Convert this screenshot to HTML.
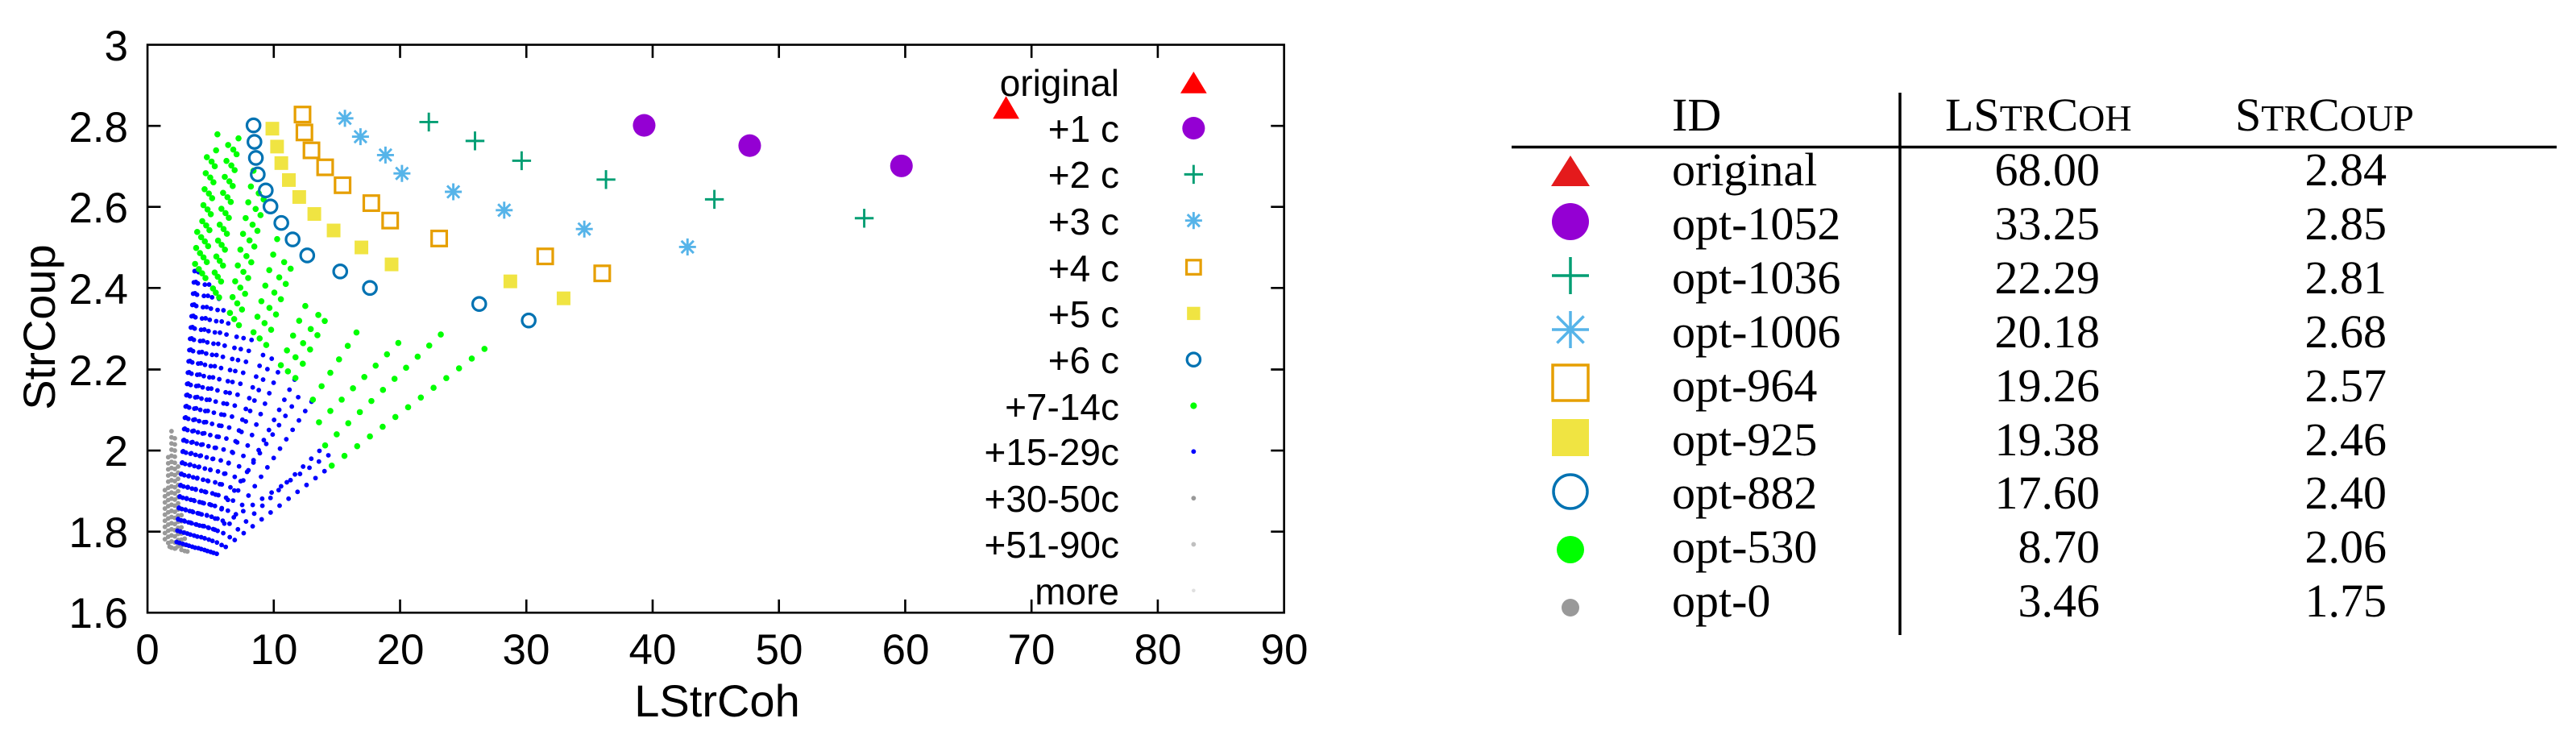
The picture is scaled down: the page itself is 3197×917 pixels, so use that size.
<!DOCTYPE html>
<html><head><meta charset="utf-8"><style>
html,body{margin:0;padding:0;background:#fff;}
svg{display:block;}
</style></head><body>
<svg width="3197" height="917" viewBox="0 0 3197 917" xmlns="http://www.w3.org/2000/svg" xmlns:xlink="http://www.w3.org/1999/xlink">
<defs>
<path id="pl" d="M-20 0H20M0-20V20" stroke="#009e73" stroke-width="5" fill="none"/>
<path id="as" d="M-18 0H18M0-18V18M-13-13L13 13M-13 13L13-13" stroke="#56b4e9" stroke-width="5" fill="none"/>
<rect id="os" x="-16" y="-16" width="32" height="32" fill="none" stroke="#e69f00" stroke-width="5.5"/>
<rect id="fs" x="-14.5" y="-14.5" width="29" height="29" fill="#f0e442"/>
<circle id="oc" r="14" fill="none" stroke="#0072b2" stroke-width="5.5"/>
<circle id="pc" r="24" fill="#9400d3"/>
</defs>
<rect width="3197" height="917" fill="#fff"/>
<g transform="scale(0.58482)">
<g stroke="#999" stroke-width="10" stroke-linecap="round" stroke-dasharray="0 13" fill="none">
<path d="M350 1040V1150M357 970V1160M364 915V1165M371 930V1165M378 990V1165M385 1080V1168M392 1130V1170"/>
<path d="M360 1160L405 1172"/>
</g>
<g stroke="#0000ff" stroke-width="10" stroke-linecap="round" stroke-dasharray="0 24" fill="none">
<path d="M375 1150L414 560M381 1152L422 571M388 1154L436 590M395 1156L452 612M401 1158L465 631M408 1160L488 664M414 1162L507 690M421 1163L538 705M427 1165L565 732M434 1167L596 775M440 1169L627 802M447 1171L664 848M453 1173L690 945M460 1175L704 988"/>
<path d="M378 1101L418 566M391 1105L444 601M404 1109L476 647M417 1113L522 697M430 1116L580 753M443 1120L645 825M456 1124L697 966"/>
</g>
<g stroke="#00ff00" stroke-width="13" stroke-linecap="round" stroke-dasharray="0 34" fill="none">
<path d="M414 560L420 470M422 571L440 320M436 590L462 278M452 612L485 300M465 631L510 262M488 664L540 350M507 690L560 420M538 705L590 500M565 732L620 560M596 775L660 620M627 802L700 660M664 848L760 700M690 945L956 690M704 988L1052 722"/>
<path d="M429 580L451 319M458 621L497 301M497 677L550 405M551 718L605 550M611 788L680 660M677 896L858 715"/>
</g>
<g>
<use href="#os" x="642" y="243"/><use href="#os" x="646" y="281"/><use href="#os" x="661" y="319"/><use href="#os" x="690" y="355"/><use href="#os" x="727" y="393"/><use href="#os" x="788" y="431"/><use href="#os" x="828" y="468"/><use href="#os" x="932" y="506"/><use href="#os" x="1157" y="544"/><use href="#os" x="1278" y="580"/>
<use href="#fs" x="578" y="273"/><use href="#fs" x="588" y="311"/><use href="#fs" x="597" y="346"/><use href="#fs" x="613" y="382"/><use href="#fs" x="635" y="418"/><use href="#fs" x="667" y="454"/><use href="#fs" x="708" y="489"/><use href="#fs" x="767" y="525"/><use href="#fs" x="831" y="561"/><use href="#fs" x="1083" y="597"/><use href="#fs" x="1196" y="633"/>
<use href="#oc" x="538" y="266"/><use href="#oc" x="540" y="301"/><use href="#oc" x="543" y="335"/><use href="#oc" x="547" y="370"/><use href="#oc" x="564" y="404"/><use href="#oc" x="574" y="438"/><use href="#oc" x="597" y="473"/><use href="#oc" x="621" y="508"/><use href="#oc" x="652" y="542"/><use href="#oc" x="722" y="576"/><use href="#oc" x="785" y="611"/><use href="#oc" x="1017" y="645"/><use href="#oc" x="1122" y="680"/>
<use href="#as" x="732" y="251"/><use href="#as" x="765" y="290"/><use href="#as" x="818" y="329"/><use href="#as" x="853" y="368"/><use href="#as" x="962" y="407"/><use href="#as" x="1070" y="446"/><use href="#as" x="1240" y="486"/><use href="#as" x="1459" y="524"/>
<use href="#pl" x="910" y="259"/><use href="#pl" x="1008" y="299"/><use href="#pl" x="1107" y="341"/><use href="#pl" x="1286" y="381"/><use href="#pl" x="1516" y="423"/><use href="#pl" x="1834" y="463"/>
<use href="#pc" x="1367" y="266"/><use href="#pc" x="1591" y="309"/><use href="#pc" x="1913" y="352"/>
<polygon points="2107,252 2163,252 2135,204" fill="#ff0000"/>
</g>
<polygon points="2505,198 2561,198 2533,152" fill="#ff0000"/>
<use href="#pc" x="2533" y="272"/>
<use href="#pl" x="2533" y="370"/>
<use href="#as" x="2533" y="468"/>
<rect x="2518" y="552" width="30" height="30" fill="none" stroke="#e69f00" stroke-width="5.5"/>
<rect x="2519" y="651" width="28" height="28" fill="#f0e442"/>
<use href="#oc" x="2533" y="763"/>
<circle cx="2533" cy="861" r="7" fill="#00ff00"/>
<circle cx="2533" cy="958" r="5" fill="#0000ff"/>
<circle cx="2533" cy="1057" r="5" fill="#999"/>
<circle cx="2533" cy="1155" r="5" fill="#c0c0c0"/>
<circle cx="2533" cy="1253" r="4" fill="#e0e0e0"/>
<path d="M581 1300v-28M581 95v28M849 1300v-28M849 95v28M1117 1300v-28M1117 95v28M1385 1300v-28M1385 95v28M1653 1300v-28M1653 95v28M1921 1300v-28M1921 95v28M2189 1300v-28M2189 95v28M2457 1300v-28M2457 95v28M313 1128h28M2725 1128h-28M313 956h28M2725 956h-28M313 784h28M2725 784h-28M313 611h28M2725 611h-28M313 439h28M2725 439h-28M313 267h28M2725 267h-28" stroke="#000" stroke-width="4.5" fill="none"/>
<rect x="313" y="95" width="2412" height="1205" fill="none" stroke="#000" stroke-width="4.5"/>
</g>
<g font-family="Liberation Sans, sans-serif" font-size="53" fill="#000">
<text x="159" y="75" text-anchor="end">3</text>
<text x="159" y="176" text-anchor="end">2.8</text>
<text x="159" y="276" text-anchor="end">2.6</text>
<text x="159" y="377" text-anchor="end">2.4</text>
<text x="159" y="478" text-anchor="end">2.2</text>
<text x="159" y="578" text-anchor="end">2</text>
<text x="159" y="679" text-anchor="end">1.8</text>
<text x="159" y="779" text-anchor="end">1.6</text>
<text x="183" y="824" text-anchor="middle">0</text>
<text x="340" y="824" text-anchor="middle">10</text>
<text x="497" y="824" text-anchor="middle">20</text>
<text x="653" y="824" text-anchor="middle">30</text>
<text x="810" y="824" text-anchor="middle">40</text>
<text x="967" y="824" text-anchor="middle">50</text>
<text x="1124" y="824" text-anchor="middle">60</text>
<text x="1280" y="824" text-anchor="middle">70</text>
<text x="1437" y="824" text-anchor="middle">80</text>
<text x="1594" y="824" text-anchor="middle">90</text>
<text x="890" y="889" text-anchor="middle" font-size="56">LStrCoh</text>
<text transform="translate(68,406) rotate(-90)" text-anchor="middle" font-size="56">StrCoup</text>
</g>
<g font-family="Liberation Sans, sans-serif" font-size="46" fill="#000" text-anchor="end">
<text x="1389" y="119">original</text>
<text x="1389" y="176">+1 c</text>
<text x="1389" y="233">+2 c</text>
<text x="1389" y="291">+3 c</text>
<text x="1389" y="349">+4 c</text>
<text x="1389" y="406">+5 c</text>
<text x="1389" y="463">+6 c</text>
<text x="1389" y="521">+7-14c</text>
<text x="1389" y="577">+15-29c</text>
<text x="1389" y="635">+30-50c</text>
<text x="1389" y="692">+51-90c</text>
<text x="1389" y="750">more</text>
</g>
<g stroke="#000" stroke-width="3.5">
<line x1="2358" y1="115" x2="2358" y2="788"/>
<line x1="1876" y1="182.5" x2="3173" y2="182.5"/>
</g>
<g font-family="Liberation Serif, serif" font-size="58" fill="#000">
<text x="2075" y="162">ID</text>
<text x="2414" y="162">LS<tspan font-size="46">TR</tspan>C<tspan font-size="46">OH</tspan></text>
<text x="2774" y="162">S<tspan font-size="46">TR</tspan>C<tspan font-size="46">OUP</tspan></text>
</g>
<g font-family="Liberation Serif, serif" font-size="58" fill="#000">
<text x="2075" y="230">original</text><text x="2606" y="230" text-anchor="end">68.00</text><text x="2962" y="230" text-anchor="end">2.84</text>
<text x="2075" y="297">opt-1052</text><text x="2606" y="297" text-anchor="end">33.25</text><text x="2962" y="297" text-anchor="end">2.85</text>
<text x="2075" y="364">opt-1036</text><text x="2606" y="364" text-anchor="end">22.29</text><text x="2962" y="364" text-anchor="end">2.81</text>
<text x="2075" y="431">opt-1006</text><text x="2606" y="431" text-anchor="end">20.18</text><text x="2962" y="431" text-anchor="end">2.68</text>
<text x="2075" y="498">opt-964</text><text x="2606" y="498" text-anchor="end">19.26</text><text x="2962" y="498" text-anchor="end">2.57</text>
<text x="2075" y="565">opt-925</text><text x="2606" y="565" text-anchor="end">19.38</text><text x="2962" y="565" text-anchor="end">2.46</text>
<text x="2075" y="631">opt-882</text><text x="2606" y="631" text-anchor="end">17.60</text><text x="2962" y="631" text-anchor="end">2.40</text>
<text x="2075" y="698">opt-530</text><text x="2606" y="698" text-anchor="end">8.70</text><text x="2962" y="698" text-anchor="end">2.06</text>
<text x="2075" y="765">opt-0</text><text x="2606" y="765" text-anchor="end">3.46</text><text x="2962" y="765" text-anchor="end">1.75</text>
</g>
<polygon points="1925,231 1973,231 1949,193" fill="#e41a1c"/>
<ellipse cx="1949" cy="275" rx="23" ry="23" fill="#9400d3"/>
<path d="M1926 342H1972M1949 319V365" stroke="#009e73" stroke-width="3.5"/>
<path d="M1926 409H1972M1949 386V432M1932.4 392.4L1965.6 425.6M1932.4 425.6L1965.6 392.4" stroke="#56b4e9" stroke-width="3.5"/>
<rect x="1927" y="453" width="44" height="44" fill="none" stroke="#e69f00" stroke-width="3.5"/>
<rect x="1926" y="520" width="46" height="46" fill="#f0e442"/>
<circle cx="1949" cy="610" r="21" fill="none" stroke="#0072b2" stroke-width="3.5"/>
<circle cx="1949" cy="682" r="17" fill="#00ff00"/>
<circle cx="1949" cy="754" r="11" fill="#999"/>
</svg>
</body></html>
